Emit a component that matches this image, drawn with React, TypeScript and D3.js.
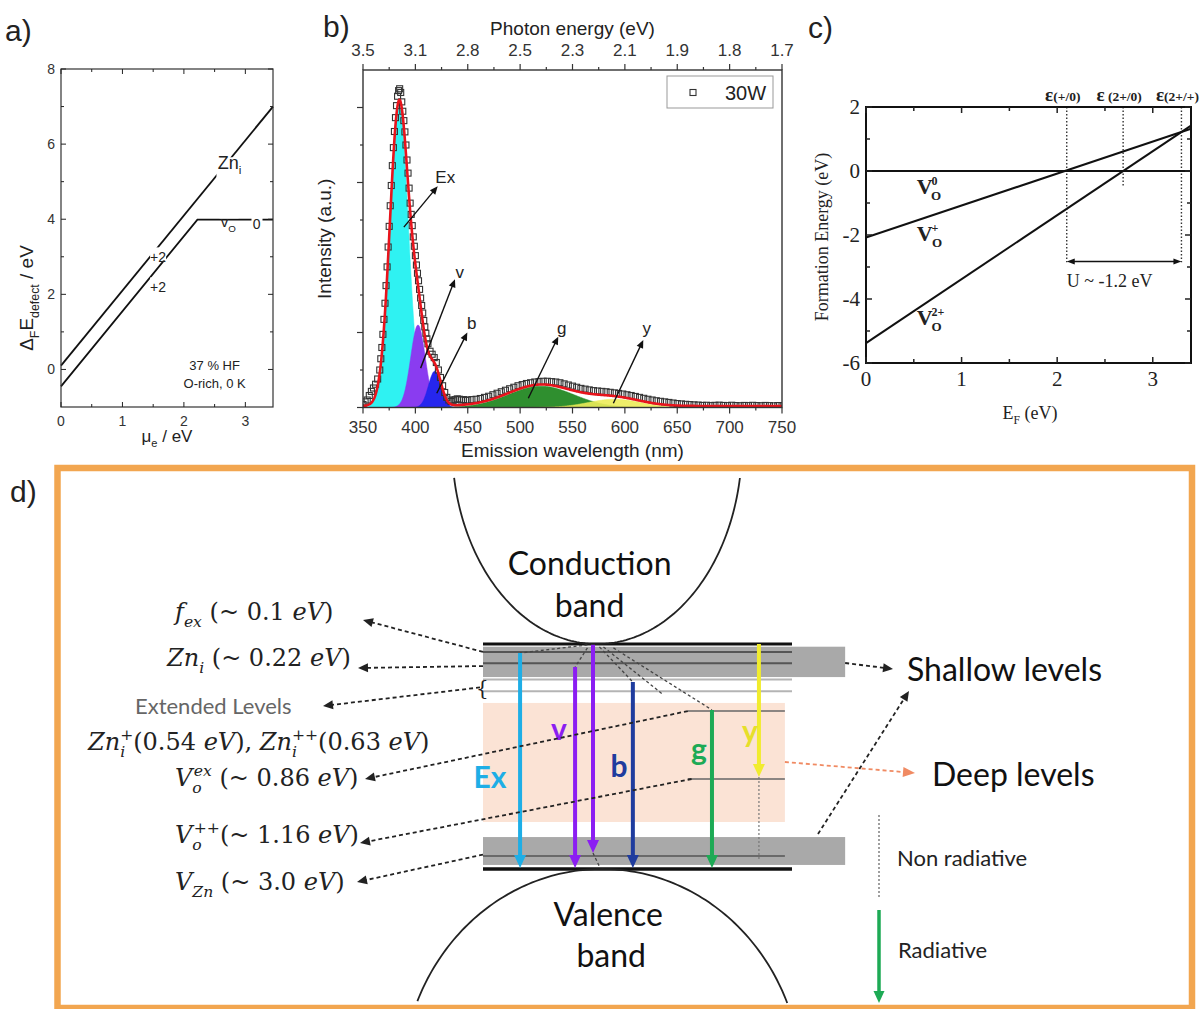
import React from 'react'
import * as d3 from 'd3'

const W = 1203
const H = 1009

// a) defect formation energy vs electron chemical potential
const muLimits = [0, 3.45]
const defectLimits = [-1, 8]
const muTicks = [0, 1, 2, 3]
const muMinor = [0.5, 1.5, 2.5]
const defectTicks = [0, 2, 4, 6, 8]
const defectMinor = [1, 3, 5, 7]
const znMu = [0, 3.45]
const znEnergy = [0.1, 7.0]
const voMu = [0, 2.22, 3.45]
const voEnergy = [-0.45, 3.99, 3.99]

// b) PL spectrum, 30W
const wavelengthTicks = [350, 400, 450, 500, 550, 600, 650, 700, 750]
const wavelengthMinor = [375, 425, 475, 525, 575, 625, 675, 725]
const photonEnergyLabels = ['3.5', '3.1', '2.8', '2.5', '2.3', '2.1', '1.9', '1.8', '1.7']
const intensityTicks = [0, 2000, 4000, 6000, 8000]
const intensityMinor = [1000, 3000, 5000, 7000]
const peakNames = ['Ex', 'v', 'b', 'g', 'y']
const peakCenters = [384.5, 402.5, 418.5, 520, 590]
const peakWidths = [8.8, 7, 6, 31, 25]
const peakHeights = [8080, 2200, 970, 570, 220]
const fitOffset = 40
const dataWavelength = [
  ...d3.range(350, 367, 2),
  ...d3.range(367, 413, 1),
  ...d3.range(414, 451, 2),
  ...d3.range(454, 751, 4),
]
const dataIntensity = [
  80, 150, 200, 320, 430, 520, 620, 760, 1000,
  1300, 1600, 1950, 2350, 2780, 3250, 3750, 4280, 4830, 5380,
  5920, 6450, 6930, 7360, 7730, 8050, 8300, 8450, 8500, 8400,
  8150, 7900, 7650, 7350, 7000, 6600, 6250, 5850, 5450, 5150,
  4850, 4550, 4300, 4050, 3800, 3580, 3380, 3150, 2920, 2720,
  2520, 2320, 2150, 1980, 1830, 1700,
  1500, 1420, 1330, 1200, 1000, 800, 580, 400, 270, 200, 160, 180, 210, 230, 220, 200, 210, 190, 200,
  210, 220, 240, 270, 300, 340, 380, 420, 460, 500, 540, 580, 610, 640, 660, 680, 690,
  700, 700, 690, 680, 660, 630, 600, 570, 540, 510, 490, 470, 450, 440, 430, 420, 405,
  390, 375, 360, 340, 320, 295, 270, 245, 220, 200, 180, 165, 150, 135, 120, 105, 95,
  85, 78, 70, 65, 55, 60, 50, 58, 62, 55, 50, 60, 52, 48, 55, 50, 58,
  52, 48, 55, 50, 45, 52, 48,
]
const peakArrowFrom = [[389, 4810], [405, 1050], [420.4, 380], [507.8, 245], [589, 112]]
const peakArrowTo = [[421.3, 5900], [437.8, 3420], [449.6, 2000], [536.4, 1890], [617.6, 1800]]
const peakLabelAt = [[428.5, 6150], [442.3, 3620], [453.8, 2250], [539.7, 2130], [620.8, 2120]]
const peakFill: Record<string, string> = { Ex: '#2ff2f2', v: '#8a3cf0', b: '#2626ee', g: '#2f8f2f', y: '#ecec5a' }

// c) V_O formation energy vs Fermi level
const efLimits = [0, 3.4]
const feLimits = [-6, 2]
const efTicks = [0, 1, 2, 3]
const efMinor = [0.5, 1.5, 2.5]
const feTicks = [-6, -4, -2, 0, 2]
const feMinor = [-5, -3, -1, 1]
const neutralLine = [[0, 0], [3.4, 0]]
const plusLine = [[0, -2.08], [3.4, 1.32]]
const twoPlusLine = [[0, -5.38], [3.4, 1.42]]
const transitionE = [2.1, 2.69, 3.3]
const transitionLow = [-2.85, -0.45, -2.85]
const transitionText = ['(+/0)', ' (2+/0)', '(2+/+)']
const uLevel = -2.83

// d) band diagram (schematic units: 0 = CB edge, 100 = VB edge)
const shallowBand = [1.2, 14.7]
const shallowLines = [3.5, 8.6]
const extendedLines = [15.8, 21]
const deepRegion = [26.2, 79.1]
const deepLevels = [29.8, 60]
const bottomBand = [85.8, 98.2]
const bottomLine = 94.2
const transitionNames = ['Ex', 'v', 'v', 'b', 'g', 'y']
const transitionX = [12, 29.8, 35.6, 48.5, 74.1, 89.3]
const transitionFrom = [4, 10.2, 0, 16.9, 29.3, 0]
const transitionTo = [99.5, 99.5, 92.9, 99.5, 99.5, 59.1]
const transitionColor: Record<string, string> = { Ex: '#1eaee6', v: '#8b1ef2', b: '#1f3c9e', g: '#1daa55', y: '#f1ec2e' }

type Seg = { t: string; i?: boolean; sub?: boolean; sup?: boolean; dx?: number }

const MathText = ({ x, y, segs, size, family, fill = '#222', anchor = 'start', weight = 'normal', transform }: any) => {
  let shift = 0
  return (
    <text x={x} y={y} fontSize={size} fontFamily={family} fill={fill} textAnchor={anchor} fontWeight={weight} transform={transform} style={{ whiteSpace: 'pre' }}>
      {(segs as Seg[]).map((s, k) => {
        const target = s.sub ? size * 0.3 : s.sup ? -size * 0.42 : 0
        const dy = target - shift
        shift = target
        return (
          <tspan key={k} dy={dy} dx={s.dx} fontStyle={s.i ? 'italic' : 'normal'} fontSize={s.sub || s.sup ? size * 0.65 : size}>
            {s.t}
          </tspan>
        )
      })}
    </text>
  )
}

const headPath = (x1: number, y1: number, x2: number, y2: number, len: number, half: number) => {
  const a = Math.atan2(y2 - y1, x2 - x1)
  const bx = x2 - len * Math.cos(a)
  const by = y2 - len * Math.sin(a)
  const px = -Math.sin(a) * half
  const py = Math.cos(a) * half
  return `M${x2},${y2}L${bx + px},${by + py}L${bx - px},${by - py}Z`
}

const Arrow = ({ x1, y1, x2, y2, color = '#111', width = 1.5, len = 8, half = 3.5, dash }: any) => {
  const a = Math.atan2(y2 - y1, x2 - x1)
  const ex = x2 - len * 0.75 * Math.cos(a)
  const ey = y2 - len * 0.75 * Math.sin(a)
  return (
    <g>
      <line x1={x1} y1={y1} x2={ex} y2={ey} stroke={color} strokeWidth={width} strokeDasharray={dash} />
      <path d={headPath(x1, y1, x2, y2, len, half)} fill={color} />
    </g>
  )
}

// ticks drawn inside the frame on all four sides
const InnerTicks = ({ x, y, xMajor, xMinor, yMajor, yMinor, major, minor, width = 1 }: any) => {
  const [xl, xr] = x.range()
  const [yb, yt] = y.range()
  const segs: number[][] = []
  xMajor.forEach((t: number) => segs.push([x(t), yb, x(t), yb - major], [x(t), yt, x(t), yt + major]))
  xMinor.forEach((t: number) => segs.push([x(t), yb, x(t), yb - minor], [x(t), yt, x(t), yt + minor]))
  yMajor.forEach((t: number) => segs.push([xl, y(t), xl + major, y(t)], [xr, y(t), xr - major, y(t)]))
  yMinor.forEach((t: number) => segs.push([xl, y(t), xl + minor, y(t)], [xr, y(t), xr - minor, y(t)]))
  return (
    <g stroke="#222" strokeWidth={width}>
      {segs.map((s, i) => <line key={i} x1={s[0]} y1={s[1]} x2={s[2]} y2={s[3]} />)}
    </g>
  )
}

const PanelA = () => {
  const x = d3.scaleLinear().domain(muLimits).range([61, 273])
  const y = d3.scaleLinear().domain(defectLimits).range([407, 69])
  const zn = d3.line<number>().x((d) => x(d)).y((_, i) => y(znEnergy[i]))(znMu)
  const vo = d3.line<number>().x((d) => x(d)).y((_, i) => y(voEnergy[i]))(voMu)
  const font = 'Liberation Sans'
  return (
    <g fontFamily={font}>
      <text x={5} y={41} fontSize={30} fill="#222">a)</text>
      <path d={zn!} fill="none" stroke="#111" strokeWidth={1.8} />
      <path d={vo!} fill="none" stroke="#111" strokeWidth={1.8} />
      <rect x={x(0)} y={y(8)} width={x(3.45) - x(0)} height={y(-1) - y(8)} fill="none" stroke="#333" strokeWidth={1.2} />
      <InnerTicks x={x} y={y} xMajor={muTicks} xMinor={muMinor} yMajor={defectTicks} yMinor={defectMinor} major={5} minor={3} />
      {muTicks.map((t) => (
        <text key={t} x={x(t)} y={426} fontSize={14} textAnchor="middle" fill="#333">{t}</text>
      ))}
      {defectTicks.map((t) => (
        <text key={t} x={55} y={y(t) + 5} fontSize={14} textAnchor="end" fill="#333">{t}</text>
      ))}
      <rect x={x(2.53)} y={y(5.65)} width={23} height={21} fill="#fff" />
      <MathText x={x(2.55)} y={y(5.35)} size={18} family={font} segs={[{ t: 'Zn' }, { t: 'i', sub: true }]} />
      <rect x={x(1.45)} y={y(3.25)} width={16} height={13} fill="#fff" />
      <text x={x(1.45)} y={y(2.85)} fontSize={14} fill="#222">+2</text>
      <rect x={x(1.45)} y={y(2.45)} width={16} height={13} fill="#fff" />
      <text x={x(1.45)} y={y(2.05)} fontSize={14} fill="#222">+2</text>
      <rect x={x(2.58)} y={y(4.45)} width={19} height={16} fill="#fff" />
      <MathText x={x(2.6)} y={y(3.78)} size={15} family={font} segs={[{ t: 'v' }, { t: 'O', sub: true }]} />
      <rect x={x(3.1)} y={y(4.35)} width={11} height={15} fill="#fff" />
      <text x={x(3.12)} y={y(3.75)} fontSize={14} fill="#222">0</text>
      <text x={x(2.5)} y={370} fontSize={13} textAnchor="middle" fill="#222">37 % HF</text>
      <text x={x(2.5)} y={388} fontSize={13} textAnchor="middle" fill="#222">O-rich, 0 K</text>
      <MathText
        x={0} y={0} size={19} family={font} anchor="middle"
        transform="translate(33,298) rotate(-90)"
        segs={[{ t: 'Δ' }, { t: 'F', sub: true }, { t: 'E' }, { t: 'defect', sub: true }, { t: ' / eV' }]}
      />
      <MathText x={167} y={442} size={17} family={font} anchor="middle" segs={[{ t: 'μ' }, { t: 'e', sub: true }, { t: ' / eV' }]} />
    </g>
  )
}

const gauss = (l: number, k: number) =>
  peakHeights[k] * Math.exp(-((l - peakCenters[k]) ** 2) / (2 * peakWidths[k] ** 2))

const PanelB = () => {
  const x = d3.scaleLinear().domain([350, 750]).range([363, 782])
  const y = d3.scaleLinear().domain([0, 9000]).range([407.5, 70])
  const grid = d3.range(350, 750.01, 0.5)
  const area = (k: number) =>
    d3.area<number>().x((l) => x(l)).y0(y(0)).y1((l) => y(gauss(l, k)))(grid)
  const fit = d3
    .line<number>()
    .x((l) => x(l))
    .y((l) => y(peakNames.reduce((s, _, k) => s + gauss(l, k), fitOffset)))(grid)
  const font = 'Liberation Sans'
  const [top, bottom, left, right] = [70, 407.5, 363, 782]
  return (
    <g fontFamily={font}>
      <text x={323} y={37} fontSize={30} fill="#222">b)</text>
      <defs>
        <clipPath id="clipB"><rect x={left} y={top} width={right - left} height={bottom - top} /></clipPath>
      </defs>
      <g clipPath="url(#clipB)">
        {peakNames.map((n, k) => (
          <path key={k} d={area(k)!} fill={peakFill[n]} fillOpacity={k === 4 ? 0.9 : 1} stroke={peakFill[n]} strokeWidth={0.5} />
        ))}
        {dataWavelength.map((l, i) => (
          <rect key={i} x={x(l) - 3} y={y(dataIntensity[i]) - 3} width={6} height={6} fill="none" stroke="#333" strokeWidth={1.1} />
        ))}
        <path d={fit!} fill="none" stroke="#e8141c" strokeWidth={2.6} />
      </g>
      {peakArrowFrom.map((p, k) => (
        <Arrow key={k} x1={x(p[0])} y1={y(p[1])} x2={x(peakArrowTo[k][0])} y2={y(peakArrowTo[k][1])} width={1.4} len={8} half={3.5} />
      ))}
      {peakLabelAt.map((p, k) => (
        <text key={k} x={x(p[0])} y={y(p[1]) + 6} fontSize={17} textAnchor="middle" fill="#222">{peakNames[k]}</text>
      ))}
      <rect x={left} y={top} width={right - left} height={bottom - top} fill="none" stroke="#333" strokeWidth={1.4} />
      <g stroke="#333" strokeWidth={1.2}>
        {wavelengthTicks.map((t) => (
          <g key={t}>
            <line x1={x(t)} x2={x(t)} y1={bottom} y2={bottom + 6} />
            <line x1={x(t)} x2={x(t)} y1={top} y2={top - 6} />
          </g>
        ))}
        {wavelengthMinor.map((t) => (
          <g key={t}>
            <line x1={x(t)} x2={x(t)} y1={bottom} y2={bottom + 3} />
            <line x1={x(t)} x2={x(t)} y1={top} y2={top - 3} />
          </g>
        ))}
        {intensityTicks.map((t) => <line key={t} x1={left} x2={left - 6} y1={y(t)} y2={y(t)} />)}
        {intensityMinor.map((t) => <line key={t} x1={left} x2={left - 3} y1={y(t)} y2={y(t)} />)}
      </g>
      {wavelengthTicks.map((t) => (
        <text key={t} x={x(t)} y={433} fontSize={17} textAnchor="middle" fill="#333">{t}</text>
      ))}
      {wavelengthTicks.map((t, i) => (
        <text key={t} x={x(t)} y={56} fontSize={17} textAnchor="middle" fill="#333">{photonEnergyLabels[i]}</text>
      ))}
      <text x={(left + right) / 2} y={457} fontSize={19} textAnchor="middle" fill="#222">Emission wavelength (nm)</text>
      <text x={(left + right) / 2} y={35} fontSize={19} textAnchor="middle" fill="#222">Photon energy (eV)</text>
      <text transform={`translate(331,${(top + bottom) / 2}) rotate(-90)`} fontSize={19} textAnchor="middle" fill="#222">Intensity (a.u.)</text>
      <rect x={667} y={76} width={106} height={32} fill="#fff" stroke="#999" strokeWidth={1} />
      <rect x={690} y={89.5} width={6} height={6} fill="none" stroke="#333" strokeWidth={1.1} />
      <text x={725} y={100} fontSize={20} fill="#222">30W</text>
    </g>
  )
}

const PanelC = () => {
  const x = d3.scaleLinear().domain(efLimits).range([866, 1191])
  const y = d3.scaleLinear().domain(feLimits).range([363, 107])
  const line = d3.line<number[]>().x((d) => x(d[0])).y((d) => y(d[1]))
  const font = 'Liberation Serif'
  const vLabel = (e: number, f: number, sup: string) => (
    <text x={x(e)} y={y(f)} fontFamily={font} fontWeight="bold" fill="#222" fontSize={22}>
      V
      <tspan dx={-1} dy={-9} fontSize={12}>{sup}</tspan>
      <tspan dx={-(sup.length * 6.5)} dy={15} fontSize={13}>O</tspan>
    </text>
  )
  return (
    <g fontFamily={font}>
      <text x={808} y={38} fontSize={30} fontFamily="Liberation Sans" fill="#222">c)</text>
      {transitionE.map((e, i) => (
        <line key={i} x1={x(e)} x2={x(e)} y1={y(2)} y2={y(transitionLow[i])} stroke="#333" strokeWidth={1.4} strokeDasharray="1.5,2" />
      ))}
      <path d={line(neutralLine)!} stroke="#111" strokeWidth={2} fill="none" />
      <path d={line(plusLine)!} stroke="#111" strokeWidth={2} fill="none" />
      <path d={line(twoPlusLine)!} stroke="#111" strokeWidth={2} fill="none" />
      <rect x={x(0)} y={y(2)} width={x(3.4) - x(0)} height={y(-6) - y(2)} fill="none" stroke="#111" strokeWidth={2} />
      <InnerTicks x={x} y={y} xMajor={efTicks} xMinor={efMinor} yMajor={feTicks} yMinor={feMinor} major={6} minor={4} width={1.5} />
      {efTicks.map((t) => (
        <text key={t} x={x(t)} y={386} fontSize={21} textAnchor="middle" fill="#222">{t}</text>
      ))}
      {feTicks.map((t) => (
        <text key={t} x={860} y={y(t) + 7} fontSize={21} textAnchor="end" fill="#222">{t}</text>
      ))}
      {vLabel(0.53, -0.72, '0')}
      {vLabel(0.53, -2.2, '+')}
      {vLabel(0.53, -4.82, '2+')}
      {transitionE.map((e, i) => (
        <text key={i} x={x(e) - 4} y={101} fontSize={13.5} fontWeight="bold" textAnchor="middle" fill="#222">
          <tspan fontSize={19}>ε</tspan>{transitionText[i]}
        </text>
      ))}
      <line x1={x(transitionE[0]) + 6} x2={x(transitionE[2]) - 6} y1={y(uLevel)} y2={y(uLevel)} stroke="#111" strokeWidth={1.4} />
      <path d={headPath(x(transitionE[2]), y(uLevel), x(transitionE[0]), y(uLevel), 8, 3)} fill="#111" />
      <path d={headPath(x(transitionE[0]), y(uLevel), x(transitionE[2]), y(uLevel), 8, 3)} fill="#111" />
      <text x={x(transitionE[0])} y={y(uLevel) + 25} fontSize={18} fill="#222">U ~ -1.2 eV</text>
      <text transform="translate(828,237) rotate(-90)" fontSize={18} textAnchor="middle" fill="#222">Formation Energy (eV)</text>
      <MathText x={1030} y={419} size={18} family={font} anchor="middle" segs={[{ t: 'E' }, { t: 'F', sub: true }, { t: ' (eV)' }]} />
    </g>
  )
}

const PanelD = () => {
  const gy = d3.scaleLinear().domain([0, 100]).range([644, 869])
  const bx = d3.scaleLinear().domain([0, 100]).range([483, 792])
  const math = 'DejaVu Serif'
  const sans = 'Lato'
  // conduction band: lower half of an ellipse touching the CB edge
  const cbX = bx(36.9)
  const cbA = 145
  const cbB = 200
  const cbCy = gy(0) - cbB
  const cbTheta0 = Math.asin((478 - cbCy) / cbB)
  const cb = d3.line<number>().x((t) => cbX + cbA * Math.cos(t)).y((t) => cbCy + cbB * Math.sin(t))(
    d3.range(cbTheta0, Math.PI - cbTheta0 + 0.001, 0.02)
  )
  // valence band: upper half of an ellipse touching the VB edge
  const vbX = bx(38.5)
  const vbA = 200
  const vbB = 215
  const vbCy = gy(100) + vbB
  const vbTheta0 = Math.asin((vbCy - 1003) / vbB)
  const vb = d3.line<number>().x((t) => vbX + vbA * Math.cos(t)).y((t) => vbCy - vbB * Math.sin(t))(
    d3.range(vbTheta0, Math.PI - vbTheta0 + 0.001, 0.02)
  )
  const tip = [bx(33.8), gy(0.4)]
  const leftLinks = [
    { from: [bx(0), gy(3.5)], to: [363, 620] },
    { from: [bx(0), gy(9.8)], to: [358, 668] },
    { from: [480, gy(19.3)], to: [323, 706] },
    { from: [bx(66.3), gy(deepLevels[0])], to: [365, 779] },
    { from: [bx(67.5), gy(deepLevels[1])], to: [360, 843] },
    { from: [bx(0), gy(bottomLine - 0.6)], to: [357, 882] },
  ]
  const labelSegs: { x: number; y: number; segs: Seg[] }[] = [
    { x: 175, y: 620, segs: [{ t: 'f', i: true }, { t: 'ex', i: true, sub: true }, { t: ' (~ 0.1 ' }, { t: 'eV', i: true }, { t: ')' }] },
    { x: 167, y: 666, segs: [{ t: 'Zn', i: true }, { t: 'i', i: true, sub: true }, { t: ' (~ 0.22 ' }, { t: 'eV', i: true }, { t: ')' }] },
    {
      x: 88, y: 750, segs: [
        { t: 'Zn', i: true }, { t: 'i', i: true, sub: true }, { t: '+', sup: true, dx: -5 }, { t: '(0.54 ' }, { t: 'eV', i: true }, { t: '), ' },
        { t: 'Zn', i: true }, { t: 'i', i: true, sub: true }, { t: '++', sup: true, dx: -5 }, { t: '(0.63 ' }, { t: 'eV', i: true }, { t: ')' },
      ],
    },
    { x: 175, y: 786, segs: [{ t: 'V', i: true }, { t: 'o', i: true, sub: true }, { t: 'ex', i: true, sup: true, dx: -8 }, { t: ' (~ 0.86 ' }, { t: 'eV', i: true }, { t: ')' }] },
    { x: 175, y: 843, segs: [{ t: 'V', i: true }, { t: 'o', i: true, sub: true }, { t: '++', sup: true, dx: -8 }, { t: '(~ 1.16 ' }, { t: 'eV', i: true }, { t: ')' }] },
    { x: 175, y: 890, segs: [{ t: 'V', i: true }, { t: 'Zn', i: true, sub: true }, { t: ' (~ 3.0 ' }, { t: 'eV', i: true }, { t: ')' }] },
  ]
  const letterAt: Record<string, number[]> = { Ex: [490, 788], v: [559, 740], b: [619, 777], g: [699, 760], y: [750, 742] }
  return (
    <g>
      <text x={10} y={502} fontSize={30} fontFamily="Liberation Sans" fill="#222">d)</text>
      <rect x={57.5} y={468} width={1134.5} height={540} fill="none" stroke="#f2a650" strokeWidth={6.5} />
      {/* level bands */}
      <rect x={bx(0)} y={gy(shallowBand[0])} width={bx(117.2) - bx(0)} height={gy(shallowBand[1]) - gy(shallowBand[0])} fill="#a9a9a9" />
      <rect x={bx(0)} y={gy(bottomBand[0])} width={bx(117.2) - bx(0)} height={gy(bottomBand[1]) - gy(bottomBand[0])} fill="#a9a9a9" />
      <rect x={bx(0)} y={gy(deepRegion[0])} width={bx(97.7) - bx(0)} height={gy(deepRegion[1]) - gy(deepRegion[0])} fill="#fbe3d5" />
      {shallowLines.map((v) => <line key={v} x1={bx(0)} x2={bx(100)} y1={gy(v)} y2={gy(v)} stroke="#555" strokeWidth={2} />)}
      {extendedLines.map((v) => <line key={v} x1={bx(0)} x2={bx(100)} y1={gy(v)} y2={gy(v)} stroke="#b4b4b4" strokeWidth={2} />)}
      {deepLevels.map((v) => <line key={v} x1={bx(66.3)} x2={bx(97.7)} y1={gy(v)} y2={gy(v)} stroke="#666" strokeWidth={1.5} />)}
      <line x1={bx(0)} x2={bx(97.7)} y1={gy(bottomLine)} y2={gy(bottomLine)} stroke="#555" strokeWidth={1.5} />
      <line x1={bx(0)} x2={bx(100)} y1={gy(0)} y2={gy(0)} stroke="#111" strokeWidth={3} />
      <line x1={bx(0)} x2={bx(100)} y1={gy(100)} y2={gy(100)} stroke="#111" strokeWidth={3.5} />
      <text x={476} y={695} fontSize={20} fontFamily={math} fill="#222">{'{'}</text>
      {/* non radiative relaxation paths */}
      <g stroke="#444" strokeWidth={1.3} strokeDasharray="3,2.5" fill="none">
        <line x1={tip[0]} y1={tip[1]} x2={bx(transitionX[0])} y2={gy(transitionFrom[0])} />
        <line x1={tip[0]} y1={tip[1] + 3} x2={bx(transitionX[1])} y2={gy(transitionFrom[1])} />
        <line x1={tip[0] + 12} y1={tip[1] + 2} x2={bx(transitionX[3])} y2={gy(transitionFrom[3])} />
        <line x1={tip[0] + 16} y1={tip[1] + 2} x2={bx(58.3)} y2={gy(22.5)} />
        <line x1={tip[0] + 26} y1={tip[1] + 3} x2={bx(transitionX[4])} y2={gy(transitionFrom[4])} />
        <line x1={bx(transitionX[2])} y1={gy(transitionTo[2])} x2={bx(37.9)} y2={gy(99.5)} />
      </g>
      <line x1={bx(transitionX[5])} x2={bx(transitionX[5])} y1={gy(transitionTo[5])} y2={gy(96)} stroke="#777" strokeWidth={1.2} strokeDasharray="2,2" />
      {/* radiative transitions */}
      {transitionNames.map((n, i) => (
        <Arrow key={i} x1={bx(transitionX[i])} y1={gy(transitionFrom[i])} x2={bx(transitionX[i])} y2={gy(transitionTo[i])} color={transitionColor[n]} width={4} len={13} half={6} />
      ))}
      {Object.keys(letterAt).map((n) => (
        <text key={n} x={letterAt[n][0]} y={letterAt[n][1]} fontSize={30} fontWeight="bold" fontFamily={sans} textAnchor="middle" fill={n === 'y' ? '#e6df2a' : transitionColor[n]}>{n}</text>
      ))}
      {/* bands */}
      <path d={cb!} fill="none" stroke="#222" strokeWidth={1.8} />
      <path d={vb!} fill="none" stroke="#222" strokeWidth={1.8} />
      <text x={bx(34.5)} y={575} fontSize={32} fontFamily={sans} textAnchor="middle" fill="#111">Conduction</text>
      <text x={bx(34.5)} y={617} fontSize={32} fontFamily={sans} textAnchor="middle" fill="#111">band</text>
      <text x={bx(40.5)} y={926} fontSize={32} fontFamily={sans} textAnchor="middle" fill="#111">Valence</text>
      <text x={bx(41.5)} y={967} fontSize={32} fontFamily={sans} textAnchor="middle" fill="#111">band</text>
      {/* left labels */}
      {leftLinks.map((l, i) => (
        <Arrow key={i} x1={l.from[0]} y1={l.from[1]} x2={l.to[0]} y2={l.to[1]} width={1.8} len={10} half={4.5} dash="4,3" color="#222" />
      ))}
      {labelSegs.map((l, i) => (
        <MathText key={i} x={l.x} y={l.y} size={24} family={math} segs={l.segs} fill="#222" />
      ))}
      <text x={135} y={714} fontSize={22} fontFamily={sans} fill="#666">Extended Levels</text>
      {/* right side */}
      <Arrow x1={bx(117.2)} y1={663} x2={893} y2={669} width={1.8} len={10} half={4.5} dash="4,3" color="#222" />
      <Arrow x1={818} y1={834} x2={909} y2={691} width={1.8} len={10} half={4.5} dash="4,3" color="#222" />
      <Arrow x1={bx(97.7)} y1={762} x2={915} y2={773} width={1.8} len={12} half={5} dash="4,3" color="#f08a62" />
      <text x={907} y={681} fontSize={32} fontFamily={sans} fill="#111">Shallow levels</text>
      <text x={932} y={786} fontSize={32} fontFamily={sans} fill="#111">Deep levels</text>
      <line x1={879} x2={879} y1={815} y2={898} stroke="#777" strokeWidth={1.4} strokeDasharray="2,2" />
      <text x={897} y={866} fontSize={22} fontFamily={sans} fill="#222">Non radiative</text>
      <Arrow x1={879} y1={910} x2={879} y2={1003} color="#1daa55" width={3.5} len={12} half={5.5} />
      <text x={898} y={958} fontSize={22} fontFamily={sans} fill="#222">Radiative</text>
    </g>
  )
}

const App = () => (
  <svg width={W} height={H} viewBox={`0 0 ${W} ${H}`} style={{ position: 'absolute', left: 0, top: 0, background: '#fff' }}>
    <PanelA />
    <PanelB />
    <PanelC />
    <PanelD />
  </svg>
)

export default App
